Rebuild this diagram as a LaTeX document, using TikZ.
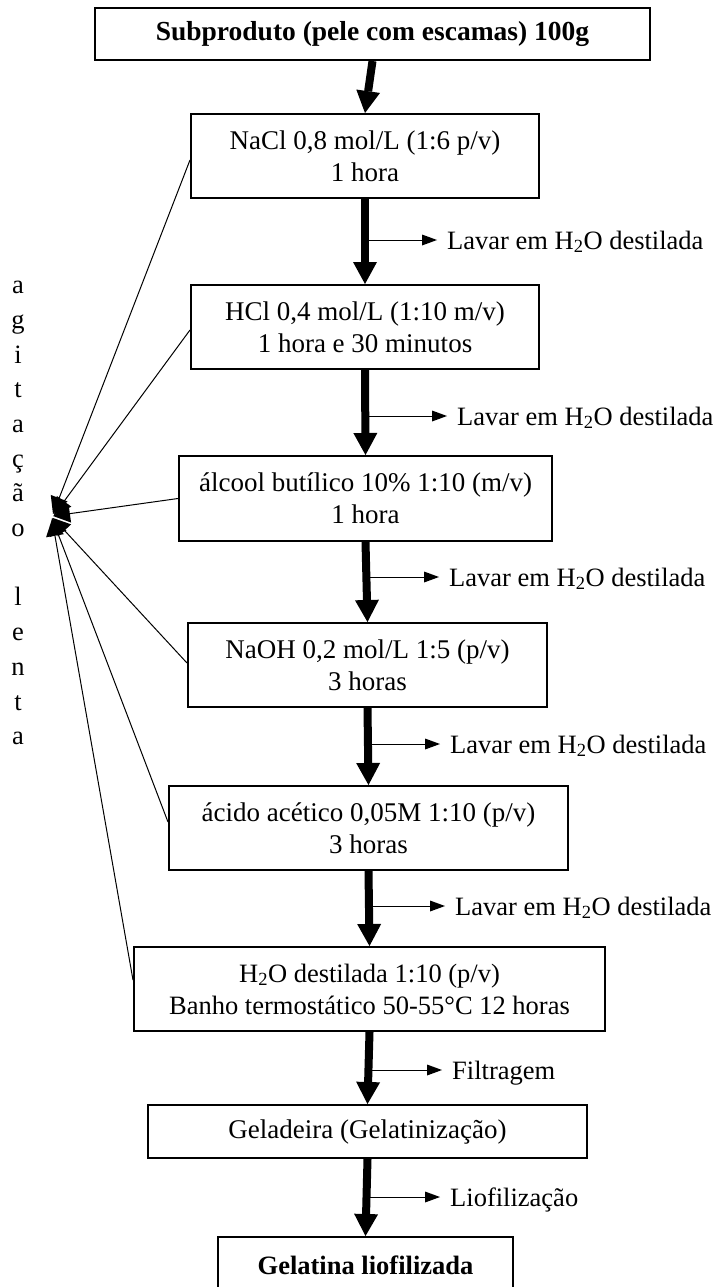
\documentclass[tikz,border=0pt]{standalone}
\usepackage{fontspec}
\setmainfont{Liberation Serif}
\usetikzlibrary{arrows.meta,calc}
\begin{document}
\begin{tikzpicture}[x=1pt,y=-1pt,
  txt/.style={font=\fontsize{27}{32}\selectfont},
  box/.style={draw, line width=2pt, inner sep=0pt, align=center, txt},
  boldbox/.style={box, font=\fontsize{27.5}{32}\selectfont\bfseries},
  flow/.style={line width=8pt, -{Triangle[width=24pt,length=22pt,line width=0pt]}},
  side/.style={line width=1pt, -{Triangle[width=11pt,length=15pt,line width=0pt]}},
  lbl/.style={anchor=west, inner xsep=10pt, inner ysep=0pt, text height=18pt, text depth=0pt, font=\fontsize{26.5}{32}\selectfont},
  stir/.style={line width=1pt, -{Triangle[width=18pt,length=17pt,line width=0pt]}}
]
\path[use as bounding box, clip] (0,0) rectangle (715,1287);

% main boxes
\node[boldbox, minimum width=555pt, minimum height=52pt] (n1) at (372.5,34) {Subproduto (pele com escamas) 100g};
\node[box, minimum width=348pt, minimum height=84pt] (n2) at (365,156) {NaCl 0,8 mol/L (1:6 p/v)\\1 hora};
\node[box, minimum width=348pt, minimum height=84pt] (n3) at (365,327) {HCl 0,4 mol/L (1:10 m/v)\\1 hora e 30 minutos};
\node[box, minimum width=373pt, minimum height=85pt] (n4) at (365.5,498.5) {álcool butílico 10\% 1:10 (m/v)\\1 hora};
\node[box, minimum width=359pt, minimum height=84pt] (n5) at (367.5,665) {NaOH 0,2 mol/L 1:5 (p/v)\\3 horas};
\node[box, minimum width=399pt, minimum height=84pt] (n6) at (368.5,828) {ácido acético 0,05M 1:10 (p/v)\\3 horas};
\node[box, minimum width=471pt, minimum height=84pt, font=\fontsize{26.5}{32}\selectfont] (n7) at (369.5,989) {H\textsubscript{2}O destilada 1:10 (p/v)\\Banho termostático 50-55°C 12 horas};
\node[box, minimum width=439pt, minimum height=53pt] (n8) at (367.5,1131.5) {Geladeira (Gelatinização)};
\node[boldbox, minimum width=295pt, minimum height=56pt, font=\fontsize{26.5}{32}\selectfont\bfseries] (n9) at (365.5,1265) {Gelatina liofilizada};

% side labels
\node[lbl] (l1) at (437,240) {Lavar em H\textsubscript{2}O destilada};
\node[lbl] (l2) at (447,416) {Lavar em H\textsubscript{2}O destilada};
\node[lbl] (l3) at (439,577) {Lavar em H\textsubscript{2}O destilada};
\node[lbl] (l4) at (440,744) {Lavar em H\textsubscript{2}O destilada};
\node[lbl] (l5) at (445,906) {Lavar em H\textsubscript{2}O destilada};
\node[lbl] (l6) at (442,1070) {Filtragem};
\node[lbl] (l7) at (440,1197) {Liofilização};

% vertical text
\node[anchor=north, inner sep=0pt, align=center, font=\fontsize{26.5}{34.7}\selectfont] (agit) at (18,281)
  {a\\g\\i\\t\\a\\ç\\ã\\o\\\mbox{}\\l\\e\\n\\t\\a};

% main flow arrows
\draw[flow] (n1.south) -- (n2.north);
\draw[flow] (n2.south) -- (n3.north);
\draw[flow] (n3.south) -- (n4.north);
\draw[flow] (n4.south) -- (n5.north);
\draw[flow] (n5.south) -- (n6.north);
\draw[flow] (n6.south) -- (n7.north);
\draw[flow] (n7.south) -- (n8.north);
\draw[flow] (n8.south) -- (n9.north);

% side arrows
\draw[side] (n2.south |- l1.west) -- (l1.west);
\draw[side] (n3.south |- l2.west) -- (l2.west);
\draw[side] (n4.south |- l3.west) -- (l3.west);
\draw[side] (n5.south |- l4.west) -- (l4.west);
\draw[side] (n6.south |- l5.west) -- (l5.west);
\draw[side] (n7.south |- l6.west) -- (l6.west);
\draw[side] (n8.south |- l7.west) -- (l7.west);

% converging lines (agitacao lenta)
\coordinate (t2) at (53,514);
\coordinate (t3) at (54,515);
\coordinate (t4) at (53,516);
\coordinate (t5) at (53,518);
\coordinate (t6) at (52,518);
\coordinate (t7) at (52,519);
\draw[stir] ([yshift=-4pt]n2.west) -- (t2);
\draw[stir] ([yshift=-3pt]n3.west) -- (t3);
\draw[stir] (n4.west) -- (t4);
\draw[stir] ([yshift=2pt]n5.west) -- (t5);
\draw[stir] ([yshift=6pt]n6.west) -- (t6);
\draw[stir] ([yshift=9pt]n7.west) -- (t7);
\end{tikzpicture}
\end{document}
